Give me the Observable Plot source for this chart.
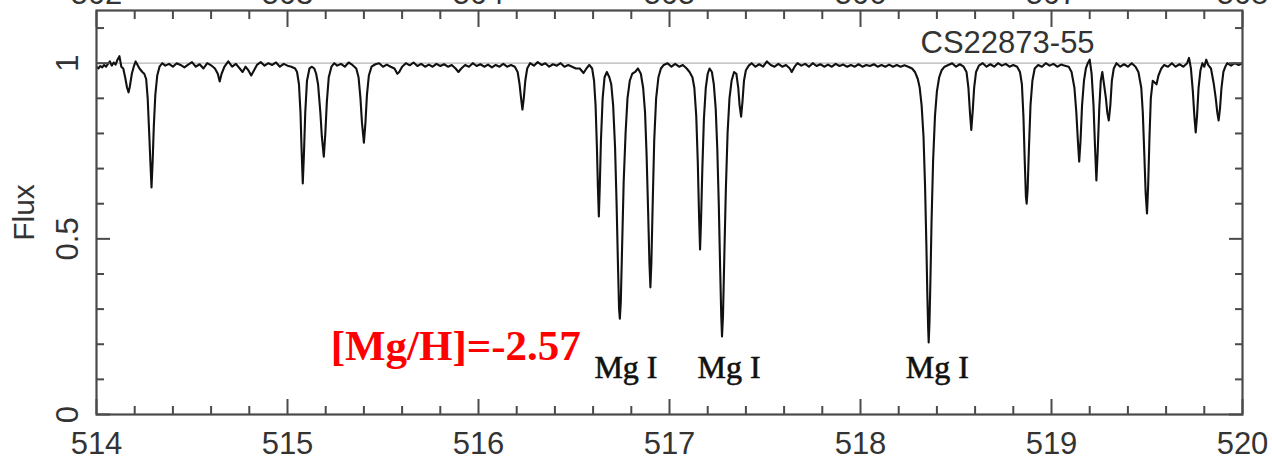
<!DOCTYPE html>
<html>
<head>
<meta charset="utf-8">
<script src="https://cdn.jsdelivr.net/npm/d3@7"></script>
<script src="https://cdn.jsdelivr.net/npm/@observablehq/plot@0.6"></script>
<style>
  html, body { margin: 0; padding: 0; background: #fff; }
  #chart svg { display: block; }
</style>
</head>
<body>
<div id="chart"></div>
<script>
// Spectrum: [wavelength (nm), normalised flux]
const spectrum = [
  [514.00,0.990],[514.01,0.985],[514.02,0.992],[514.03,0.988],[514.04,0.995],[514.05,0.990],[514.06,0.998],[514.07,1.005],
  [514.08,0.993],[514.09,1.002],[514.10,0.996],[514.11,1.010],[514.12,1.020],[514.13,0.990],[514.14,0.985],[514.15,0.960],
  [514.16,0.930],[514.168,0.917],[514.175,0.935],[514.185,0.970],[514.195,0.990],[514.205,1.005],[514.215,0.995],[514.225,0.985],
  [514.24,0.975],[514.25,0.970],[514.26,0.955],[514.268,0.900],[514.276,0.800],[514.282,0.720],[514.288,0.646],[514.294,0.720],
  [514.300,0.820],[514.308,0.910],[514.318,0.965],[514.33,0.990],[514.345,1.000],[514.36,0.993],[514.38,0.998],[514.40,0.990],
  [514.42,1.000],[514.44,0.995],[514.46,0.988],[514.48,0.996],[514.50,1.003],[514.52,0.990],[514.54,0.997],[514.56,0.985],
  [514.58,1.000],[514.60,0.994],[514.62,0.985],[514.635,0.970],[514.645,0.948],[514.655,0.970],[514.67,0.990],[514.69,1.005],
  [514.71,0.990],[514.73,0.998],[514.75,0.985],[514.765,0.975],[514.78,0.990],[514.795,0.980],[514.81,0.965],[514.825,0.980],
  [514.84,0.995],[514.86,1.003],[514.88,0.993],[514.90,1.000],[514.92,0.995],[514.94,1.002],[514.96,0.990],[514.98,0.998],
  [515.00,0.993],[515.02,0.990],[515.04,0.985],[515.05,0.975],[515.06,0.940],[515.068,0.860],[515.074,0.750],[515.08,0.658],
  [515.086,0.740],[515.093,0.860],[515.102,0.950],[515.115,0.985],[515.128,0.990],[515.14,0.985],[515.15,0.970],[515.16,0.940],
  [515.172,0.860],[515.18,0.790],[515.19,0.734],[515.198,0.800],[515.206,0.890],[515.216,0.960],[515.23,0.990],[515.245,1.000],
  [515.26,0.993],[515.28,0.998],[515.30,0.990],[515.32,1.002],[515.34,0.995],[515.36,0.985],[515.372,0.960],[515.382,0.900],
  [515.39,0.830],[515.40,0.774],[515.408,0.830],[515.416,0.910],[515.426,0.965],[515.44,0.990],[515.46,0.997],[515.48,1.000],
  [515.50,0.990],[515.52,0.996],[515.54,0.990],[515.56,0.985],[515.575,0.970],[515.585,0.975],[515.60,0.990],[515.62,1.000],
  [515.64,0.994],[515.66,1.002],[515.68,0.992],[515.70,0.998],[515.72,0.990],[515.74,0.996],[515.76,0.990],[515.78,0.998],
  [515.80,0.992],[515.82,0.997],[515.84,0.990],[515.86,0.995],[515.88,0.985],[515.895,0.975],[515.91,0.985],[515.93,0.995],
  [515.95,0.990],[515.97,1.000],[515.99,0.992],[516.01,0.997],[516.03,0.990],[516.05,0.996],[516.07,0.988],[516.09,0.995],
  [516.11,0.990],[516.13,0.998],[516.15,0.990],[516.17,0.995],[516.19,0.990],[516.205,0.975],[516.215,0.940],[516.223,0.900],
  [516.23,0.868],[516.237,0.900],[516.245,0.950],[516.255,0.985],[516.27,1.000],[516.29,0.993],[516.31,1.003],[516.33,0.995],
  [516.35,1.000],[516.37,0.990],[516.39,0.997],[516.41,0.993],[516.43,1.000],[516.45,0.990],[516.47,0.995],[516.49,0.990],
  [516.51,0.985],[516.53,0.985],[516.55,0.972],[516.565,0.985],[516.58,0.995],[516.595,0.985],[516.605,0.950],[516.613,0.880],
  [516.62,0.760],[516.625,0.650],[516.63,0.564],[516.635,0.650],[516.641,0.780],[516.65,0.900],[516.66,0.960],[516.672,0.975],
  [516.685,0.960],[516.695,0.940],[516.705,0.880],[516.715,0.760],[516.723,0.600],[516.73,0.430],[516.736,0.300],[516.74,0.273],
  [516.745,0.320],[516.752,0.480],[516.76,0.660],[516.77,0.800],[516.78,0.900],[516.792,0.950],[516.805,0.970],[516.82,0.975],
  [516.835,0.985],[516.85,0.970],[516.862,0.930],[516.872,0.860],[516.88,0.740],[516.888,0.580],[516.895,0.430],[516.90,0.362],
  [516.905,0.430],[516.912,0.600],[516.92,0.780],[516.93,0.900],[516.942,0.960],[516.955,0.985],[516.97,0.995],[516.99,1.000],
  [517.01,0.990],[517.03,0.998],[517.05,0.990],[517.07,0.995],[517.09,0.985],[517.105,0.975],[517.12,0.960],[517.13,0.930],
  [517.14,0.850],[517.148,0.720],[517.155,0.560],[517.16,0.470],[517.165,0.550],[517.172,0.700],[517.18,0.840],[517.19,0.930],
  [517.20,0.970],[517.21,0.985],[517.222,0.975],[517.232,0.940],[517.242,0.870],[517.25,0.760],[517.258,0.600],[517.265,0.420],
  [517.271,0.280],[517.275,0.222],[517.28,0.280],[517.287,0.450],[517.295,0.640],[517.304,0.800],[517.314,0.900],[517.325,0.950],
  [517.338,0.975],[517.35,0.970],[517.36,0.930],[517.367,0.880],[517.375,0.848],[517.382,0.890],[517.39,0.950],[517.40,0.980],
  [517.415,0.993],[517.43,1.000],[517.45,0.990],[517.47,0.997],[517.49,0.990],[517.51,1.005],[517.53,0.995],[517.55,0.990],
  [517.57,0.998],[517.59,0.990],[517.61,0.995],[517.63,0.985],[517.64,0.975],[517.655,0.990],[517.67,1.000],[517.69,0.993],
  [517.71,0.998],[517.73,0.990],[517.75,1.000],[517.77,0.992],[517.79,0.997],[517.81,0.990],[517.83,0.996],[517.85,0.990],
  [517.87,0.998],[517.89,0.992],[517.91,0.996],[517.93,0.990],[517.95,0.995],[517.97,0.990],[517.99,0.997],[518.01,0.990],
  [518.03,0.995],[518.05,0.992],[518.07,0.997],[518.09,0.990],[518.11,0.995],[518.13,0.990],[518.15,0.996],[518.17,0.990],
  [518.19,0.995],[518.21,0.990],[518.23,0.994],[518.25,0.990],[518.27,0.985],[518.285,0.975],[518.30,0.955],[518.31,0.930],
  [518.32,0.880],[518.33,0.790],[518.338,0.650],[518.345,0.480],[518.35,0.340],[518.354,0.250],[518.357,0.205],[518.361,0.260],
  [518.366,0.380],[518.372,0.550],[518.38,0.720],[518.39,0.850],[518.40,0.920],[518.412,0.960],[518.425,0.980],[518.44,0.990],
  [518.46,0.995],[518.48,1.000],[518.50,0.990],[518.52,0.997],[518.54,0.990],[518.555,0.975],[518.565,0.930],[518.573,0.860],
  [518.58,0.810],[518.587,0.860],[518.595,0.930],[518.605,0.975],[518.62,0.993],[518.64,1.000],[518.66,0.990],[518.68,0.997],
  [518.70,0.990],[518.72,1.000],[518.74,0.993],[518.76,0.998],[518.78,0.990],[518.80,0.995],[518.82,0.990],[518.835,0.975],
  [518.845,0.940],[518.853,0.850],[518.86,0.720],[518.866,0.620],[518.87,0.600],[518.875,0.640],[518.882,0.760],[518.89,0.880],
  [518.90,0.950],[518.912,0.985],[518.93,0.995],[518.95,0.990],[518.97,1.000],[518.99,0.993],[519.01,0.998],[519.03,0.990],
  [519.05,0.996],[519.07,0.993],[519.09,0.990],[519.105,0.975],[519.12,0.930],[519.13,0.860],[519.138,0.780],[519.145,0.720],
  [519.152,0.780],[519.16,0.880],[519.17,0.950],[519.18,0.985],[519.19,1.000],[519.20,1.010],[519.21,0.970],[519.22,0.880],
  [519.228,0.760],[519.235,0.666],[519.242,0.750],[519.25,0.870],[519.258,0.950],[519.266,0.975],[519.275,0.940],[519.285,0.900],
  [519.292,0.860],[519.30,0.837],[519.308,0.880],[519.316,0.950],[519.326,0.985],[519.34,1.000],[519.36,0.990],[519.38,0.997],
  [519.40,0.990],[519.42,1.000],[519.44,0.990],[519.455,0.975],[519.47,0.930],[519.478,0.860],[519.486,0.740],[519.493,0.630],
  [519.50,0.572],[519.506,0.650],[519.513,0.790],[519.52,0.900],[519.53,0.950],[519.54,0.945],[519.55,0.940],[519.56,0.965],
  [519.575,0.985],[519.59,0.995],[519.61,0.990],[519.63,1.000],[519.65,0.990],[519.67,0.997],[519.69,0.990],[519.71,1.000],
  [519.72,1.015],[519.73,0.985],[519.74,0.920],[519.748,0.850],[519.755,0.803],[519.762,0.850],[519.77,0.930],[519.78,0.980],
  [519.79,1.000],[519.80,0.990],[519.81,1.010],[519.82,0.995],[519.835,0.985],[519.85,0.940],[519.86,0.900],[519.868,0.860],
  [519.875,0.837],[519.882,0.870],[519.89,0.930],[519.90,0.975],[519.91,0.990],[519.92,1.000],[519.94,0.993],[519.96,1.000],
  [519.98,0.995],[520.00,1.000]
];

const xMajor = [514, 515, 516, 517, 518, 519, 520];
const xTickLabels = ["514", "515", "516", "517", "518", "519", "520"];
const topTickLabels = ["502", "503", "504", "505", "506", "507", "508"];
const xMinor = [514.2,514.4,514.6,514.8,515.2,515.4,515.6,515.8,516.2,516.4,516.6,516.8,
                517.2,517.4,517.6,517.8,518.2,518.4,518.6,518.8,519.2,519.4,519.6,519.8];
const yMajor = [0, 0.5, 1];
const yTickLabels = ["0", "0.5", "1"];
const yMinor = [0.1, 0.2, 0.3, 0.4, 0.6, 0.7, 0.8, 0.9, 1.1];
const mgLines = [516.73, 517.27, 518.36];
const mgLabel = "Mg I";
const starName = "CS22873-55";
const abundance = "[Mg/H]=-2.57";
const yLabel = "Flux";

const axisColor = "#4a4a4a";
const sans = "'Liberation Sans', Arial, sans-serif";
const serif = "'Liberation Serif', 'Times New Roman', serif";

const chart = Plot.plot({
  width: 1272,
  height: 459,
  marginLeft: 96,
  marginRight: 30,
  marginTop: 10,
  marginBottom: 45,
  style: {fontFamily: sans, fontSize: "31px", color: "#333", background: "#fff"},
  x: {domain: [514, 520]},
  y: {domain: [0, 1.15]},
  marks: [
    Plot.ruleY([1], {stroke: "#b5b5b5", strokeWidth: 1.2}),
    Plot.line(spectrum, {x: d => d[0], y: d => d[1], stroke: "#111", strokeWidth: 2.1, strokeLinejoin: "round", clip: true}),
    Plot.frame({stroke: axisColor, strokeWidth: 2.2}),
    // bottom ticks (inward)
    Plot.axisX({anchor: "bottom", ticks: xMinor, tickSize: -8, tickFormat: () => "", stroke: axisColor, strokeWidth: 2}),
    Plot.axisX({anchor: "bottom", ticks: xMajor, tickSize: -15, tickFormat: () => "", stroke: axisColor, strokeWidth: 2}),
    Plot.axisX({anchor: "bottom", ticks: xMajor, tickSize: 0, tickPadding: 17, tickFormat: (d, i) => xTickLabels[i], fontSize: 31, fill: "#333"}),
    // top ticks (inward)
    Plot.axisX({anchor: "top", ticks: xMinor, tickSize: -8, tickFormat: () => "", stroke: axisColor, strokeWidth: 2}),
    Plot.axisX({anchor: "top", ticks: xMajor, tickSize: -16, tickFormat: () => "", stroke: axisColor, strokeWidth: 2}),
    Plot.axisX({anchor: "top", ticks: xMajor, tickSize: 0, tickPadding: 7, tickFormat: (d, i) => topTickLabels[i], fontSize: 31, fill: "#333"}),
    // left / right ticks (inward)
    Plot.axisY({anchor: "left", ticks: yMinor, tickSize: -8, tickFormat: () => "", stroke: axisColor, strokeWidth: 2}),
    Plot.axisY({anchor: "left", ticks: yMajor, tickSize: -14, tickFormat: () => "", stroke: axisColor, strokeWidth: 2}),
    Plot.axisY({anchor: "right", ticks: yMinor, tickSize: -8, tickFormat: () => "", stroke: axisColor, strokeWidth: 2}),
    Plot.axisY({anchor: "right", ticks: yMajor, tickSize: -14, tickFormat: () => "", stroke: axisColor, strokeWidth: 2}),
    // rotated y tick labels
    Plot.text(yMajor, {y: d => d, frameAnchor: "left", text: (d, i) => yTickLabels[i], rotate: -90, textAnchor: "middle", lineAnchor: "middle", dx: -28, fontSize: 31, fill: "#333"}),
    // y axis title
    Plot.text([yLabel], {frameAnchor: "left", text: d => d, rotate: -90, textAnchor: "middle", lineAnchor: "middle", dx: -72, fontSize: 30, fill: "#333"}),
    // star name
    Plot.text([starName], {x: () => 518.77, y: () => 1, text: d => d, lineAnchor: "bottom", dy: -10, fontSize: 31, fill: "#333"}),
    // Mg I labels
    Plot.text(mgLines, {x: d => d, y: () => 0.1025, text: () => mgLabel, lineAnchor: "bottom", dx: 8, fontFamily: serif, fontSize: 32, fill: "#111", stroke: "#111", strokeWidth: 0.6}),
    // abundance annotation
    Plot.text([abundance], {x: () => 515.226, y: () => 0.154, text: d => d, textAnchor: "start", lineAnchor: "bottom", fontFamily: serif, fontWeight: "bold", fontSize: 43, fill: "#ff0000"})
  ]
});
document.getElementById("chart").append(chart);
</script>
</body>
</html>
